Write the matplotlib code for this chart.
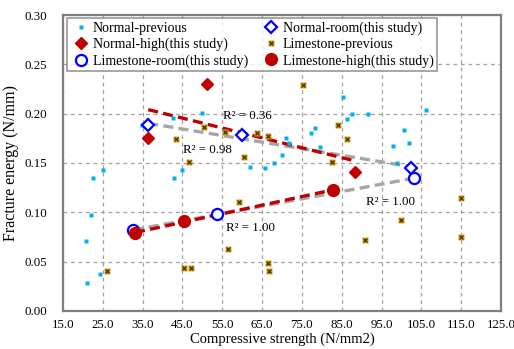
import numpy as np
import matplotlib
matplotlib.use("Agg")
import matplotlib.pyplot as plt
from matplotlib.legend_handler import HandlerTuple

plt.rcParams['font.family'] = ['Liberation Serif', 'DejaVu Serif']

# 既往データ
normal_prev_x = [20.7, 22.0, 22.6, 25.1, 24.3, 21.0, 34.8, 42.7, 43.0, 44.8, 50.0, 62.0, 65.7,
                 68.0, 69.9, 70.9, 71.8, 77.2, 78.3, 79.5, 85.3, 86.4, 87.7, 91.7, 98.0,
                 98.8, 100.7, 102.0, 106.3]
normal_prev_y = [0.071, 0.097, 0.135, 0.143, 0.037, 0.028, 0.188, 0.196, 0.135, 0.143, 0.201, 0.146, 0.145,
                 0.150, 0.158, 0.175, 0.170, 0.180, 0.185, 0.166, 0.217, 0.195, 0.200, 0.200, 0.167,
                 0.150, 0.183, 0.170, 0.204]
lime_prev_x = [26.1, 43.5, 45.4, 46.6, 47.1, 50.4, 55.7, 56.5, 59.3, 60.4, 63.6, 66.6, 66.6,
               66.8, 75.3, 82.5, 84.1, 86.4, 90.8, 99.9, 115.0, 115.0]
lime_prev_y = [0.041, 0.174, 0.044, 0.151, 0.044, 0.186, 0.181, 0.063, 0.110, 0.156, 0.180, 0.177, 0.049,
               0.041, 0.229, 0.151, 0.188, 0.174, 0.072, 0.092, 0.115, 0.075]

# 本研究
normal_room_x = [36.4, 59.9, 102.4]
normal_room_y = [0.188, 0.178, 0.145]
normal_high_x = [36.4, 51.2, 88.3]
normal_high_y = [0.175, 0.230, 0.1405]
lime_room_x = [32.7, 53.7, 103.1]
lime_room_y = [0.082, 0.098, 0.1345]
lime_high_x = [33.1, 45.4, 82.9]
lime_high_y = [0.0787, 0.0912, 0.1226]

r2_texts = ["R² = 0.36", "R² = 0.98", "R² = 1.00", "R² = 1.00"]

red = "#C00000"
blue = "#0000FF"
gray = "#A6A6A6"

fig = plt.figure(figsize=(5.14, 3.49), dpi=100)
ax = fig.add_axes([0.1226, 0.109, 0.852, 0.848])

# 近似直線
def trend(xs, ys, color):
    p = np.polyfit(xs, ys, 1)
    xx = np.array([min(xs), max(xs)])
    ax.plot(xx, np.polyval(p, xx), color=color, lw=2.4, ls=(0, (3, 1.6)), zorder=3)

trend(normal_room_x, normal_room_y, gray)
trend(lime_room_x, lime_room_y, gray)
trend(normal_high_x, normal_high_y, red)
trend(lime_high_x, lime_high_y, red)

h1, = ax.plot(normal_prev_x, normal_prev_y, "s", ms=2.6, color="#00B0F0", mec="none", zorder=4)
hb, = ax.plot(lime_prev_x, lime_prev_y, "s", ms=4.2, color="#D4A520", mec="none", zorder=4)
hx, = ax.plot(lime_prev_x, lime_prev_y, "x", ms=3.4, mew=1.0, color="#5A4000", zorder=5)
h2, = ax.plot(normal_room_x, normal_room_y, "D", ms=6.0, mfc="white", mec=blue, mew=1.6, zorder=5)
h3, = ax.plot(normal_high_x, normal_high_y, "D", ms=6.5, color=red, mec=red, zorder=5)
h5, = ax.plot(lime_room_x, lime_room_y, "o", ms=8.0, mfc="white", mec=blue, mew=1.6, zorder=5)
h6, = ax.plot(lime_high_x, lime_high_y, "o", ms=8.5, color=red, mec=red, zorder=6)

ax.set_xlim(15, 125)
ax.set_ylim(0, 0.30)
ax.set_xticks(np.arange(15, 126, 10))
ax.set_yticks(np.arange(0, 0.301, 0.05))
ax.set_xticklabels(["%.1f" % v for v in np.arange(15, 126, 10)])
ax.set_yticklabels(["%.2f" % v for v in np.arange(0, 0.301, 0.05)])
ax.tick_params(axis="x", length=0, labelsize=9.3, pad=6)
ax.tick_params(axis="y", length=0, labelsize=9.3, pad=11.5)
ax.grid(True, color="#A0A0A0", ls=(0, (3, 3)), lw=0.9)
for s in ax.spines.values():
    s.set_color("#7F7F7F")
    s.set_linewidth(1.6)

# R²ラベル
ax.annotate(r2_texts[0], (55.2, 0.1976), fontsize=9.3, va="center")
ax.annotate(r2_texts[1], (45.2, 0.163), fontsize=9.3, va="center")
ax.annotate(r2_texts[2], (55.9, 0.084), fontsize=9.3, va="center")
ax.annotate(r2_texts[3], (91.1, 0.1108), fontsize=9.3, va="center")

ax.set_xlabel("Compressive strength (N/mm2)", fontsize=10.5, labelpad=1)
ax.set_ylabel("Fracture energy (N/mm)", fontsize=11.5, labelpad=4)

handles = [h1, h3, h5, h2, (hb, hx), h6]
labels = ["Normal-previous", "Normal-high(this study)", "Limestone-room(this study)",
          "Normal-room(this study)", "Limestone-previous", "Limestone-high(this study)"]
leg = ax.legend(handles, labels, ncol=2, loc="upper left", bbox_to_anchor=(0.009, 0.99),
                fontsize=10, frameon=True, fancybox=False, edgecolor="#7F7F7F",
                handlelength=1.5, handletextpad=0.1, columnspacing=0.9, labelspacing=0.22,
                borderpad=0.25, borderaxespad=0, handler_map={tuple: HandlerTuple(ndivide=None, pad=-1.5)})
leg.get_frame().set_linewidth(1.2)
leg.set_zorder(10)

fig.savefig("out.png", dpi=100)
